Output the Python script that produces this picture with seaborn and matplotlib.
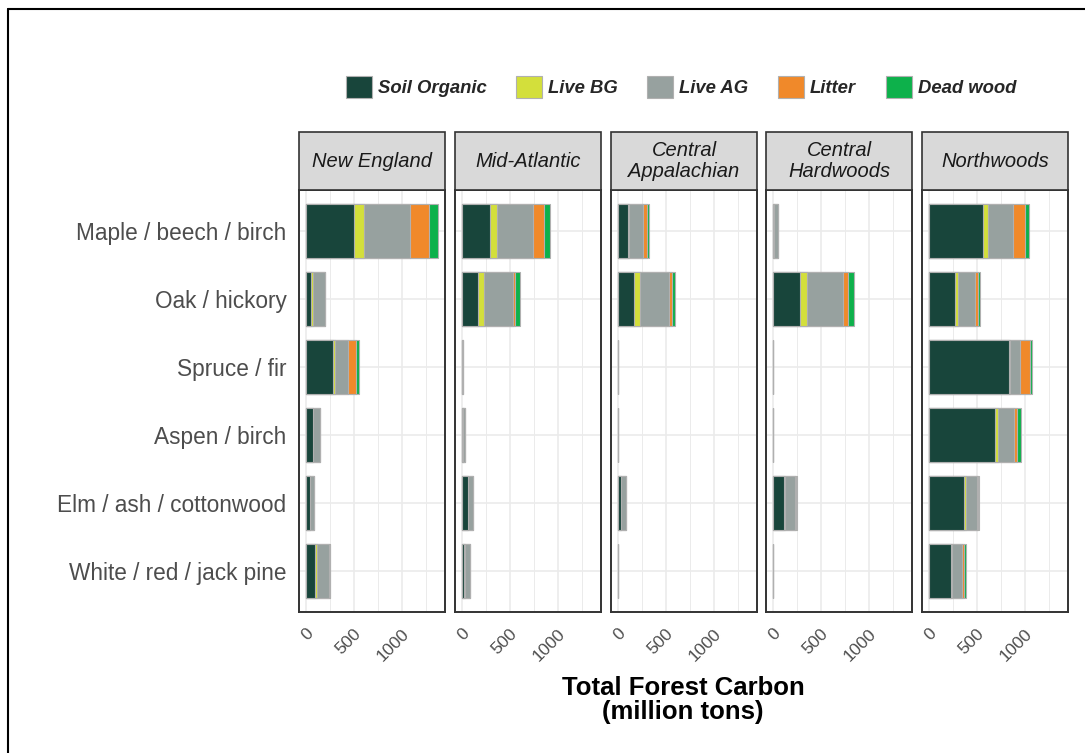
import numpy as np
import pandas as pd
import matplotlib
matplotlib.use("Agg")
import matplotlib.pyplot as plt
import seaborn as sns
from matplotlib.patches import Patch, Rectangle
from matplotlib.lines import Line2D
from matplotlib.font_manager import FontProperties

# ---------------- data ----------------
regions = ["New England", "Mid-Atlantic", "Central\nAppalachian",
           "Central\nHardwoods", "Northwoods"]
forest_types = ["Maple / beech / birch", "Oak / hickory", "Spruce / fir",
                "Aspen / birch", "Elm / ash / cottonwood", "White / red / jack pine"]
components = ["Soil Organic", "Live BG", "Live AG", "Litter", "Dead wood"]
colors = ["#18453b", "#d3df3b", "#97a19f", "#f0892a", "#0db14b"]

# values in forest_types order, per region (million tons)
soil_organic = [
    [507, 56, 285, 73, 45, 97],     # New England
    [299, 170, 0, 14, 62, 28],      # Mid-Atlantic
    [104, 174, 0, 0, 38, 0],        # Central Appalachian
    [8, 288, 0, 0, 122, 0],         # Central Hardwoods
    [569, 271, 830, 694, 372, 236], # Northwoods
]
live_bg = [
    [94, 17, 17, 2, 2, 17],
    [69, 59, 0, 1, 3, 2],
    [17, 56, 0, 0, 2, 0],
    [2, 69, 0, 0, 10, 0],
    [45, 31, 14, 24, 21, 10],
]
live_ag = [
    [486, 125, 135, 71, 40, 133],
    [368, 302, 10, 22, 57, 60],
    [142, 306, 8, 8, 43, 8],
    [42, 372, 0, 5, 104, 5],
    [264, 184, 104, 170, 108, 101],
]
litter = [
    [198, 0, 87, 0, 0, 5],
    [118, 28, 0, 0, 0, 0],
    [38, 24, 0, 0, 0, 0],
    [0, 49, 0, 0, 5, 0],
    [118, 24, 101, 31, 10, 24],
]
dead_wood = [
    [93, 2, 35, 0, 0, 0],
    [62, 42, 0, 0, 0, 0],
    [24, 38, 0, 0, 0, 0],
    [0, 66, 0, 0, 12, 0],
    [45, 24, 28, 45, 10, 21],
]
x_ticks = [0, 500, 1000]
x_minor = [250, 750, 1250]

# ---------------- long table ----------------
series = [soil_organic, live_bg, live_ag, litter, dead_wood]
rows = []
for r, reg in enumerate(regions):
    for t, ft in enumerate(forest_types):
        cum = 0
        for c, comp in enumerate(components):
            cum += series[c][r][t]
            rows.append(dict(region=reg, forest_type=ft, component=comp,
                             value=series[c][r][t], cum=cum))
df = pd.DataFrame(rows)

# ---------------- figure ----------------
sns.set_style("white")
plt.rcParams["font.family"] = ["Liberation Sans", "DejaVu Sans"]

W, H = 1085, 753
fig = plt.figure(figsize=(W / 100, H / 100), dpi=100)

panel_left = [299, 455, 611, 766, 922]
panel_w = 146
panel_top, panel_bot = 190, 612
strip_h = 58
dark = "#333333"
tick_grey = "#4d4d4d"

for i, reg in enumerate(regions):
    ax = fig.add_axes([panel_left[i] / W, 1 - panel_bot / H,
                       panel_w / W, (panel_bot - panel_top) / H])
    sub = df[df.region == reg]
    for k in reversed(range(len(components))):
        layer = sub[sub.component == components[k]]
        sns.barplot(data=layer, x="cum", y="forest_type", order=forest_types,
                    color=colors[k], saturation=1, edgecolor="#b0b0b0",
                    linewidth=0.8, width=0.8, orient="h", errorbar=None,
                    ax=ax, zorder=3)
    ax.set_xlim(-69, 1447)
    ax.set_ylim(5.6, -0.6)
    ax.set_xticks(x_ticks)
    ax.set_xticks(x_minor, minor=True)
    ax.set_xticklabels([str(v) for v in x_ticks], rotation=45, ha="right",
                       va="top", rotation_mode="anchor",
                       color=tick_grey, fontsize=12.5)
    ax.grid(which="major", axis="both", color="#ebebeb", lw=1.2, zorder=0)
    ax.grid(which="minor", axis="x", color="#ebebeb", lw=0.7, zorder=0)
    ax.set_axisbelow(True)
    ax.set_xlabel("")
    ax.set_ylabel("")
    ax.tick_params(axis="x", which="major", length=5, color=dark, width=1,
                   pad=5)
    ax.tick_params(axis="x", which="minor", length=0)
    if i == 0:
        ax.tick_params(axis="y", length=5, color=dark, width=1, pad=4,
                       labelsize=16.3, labelcolor=tick_grey)
    else:
        ax.tick_params(axis="y", length=0)
        ax.set_yticklabels([])
    for sp in ax.spines.values():
        sp.set_color(dark)
        sp.set_linewidth(1.4)
        sp.set_visible(True)
    # facet strip
    sh = strip_h / (panel_bot - panel_top)
    ax.add_patch(Rectangle((0, 1), 1, sh, transform=ax.transAxes,
                           clip_on=False, facecolor="#d9d9d9",
                           edgecolor=dark, lw=1.2, zorder=5))
    ax.text(0.5, 1 + sh / 2, reg, transform=ax.transAxes, ha="center",
            va="center", fontsize=14.5, style="italic", color="#1a1a1a",
            linespacing=1.1, zorder=6)

# legend
handles = [Patch(facecolor=c, edgecolor="#b0b0b0", lw=0.8) for c in colors]
fig.legend(handles, components, loc="center",
           bbox_to_anchor=(681 / W, 1 - 87 / H), ncol=5, frameon=False,
           prop=FontProperties(family=["Liberation Sans", "DejaVu Sans"],
                               weight="bold", style="italic", size=13.3),
           handlelength=1.4, handleheight=1.5, handletextpad=0.33,
           columnspacing=1.6)

# axis title
fig.text(683 / W, 1 - 700 / H, "Total Forest Carbon\n(million tons)",
         ha="center", va="center", fontsize=18.5, fontweight="bold",
         linespacing=1.05, color="black")

# outer frame (top and left only, as in the reference)
fig.add_artist(Line2D([8 / W, 1], [1 - 9 / H, 1 - 9 / H], color="black",
                      lw=1.5, transform=fig.transFigure))
fig.add_artist(Line2D([8 / W, 8 / W], [0, 1 - 9 / H], color="black",
                      lw=1.5, transform=fig.transFigure))

fig.savefig("out.png", dpi=100, facecolor="white")
